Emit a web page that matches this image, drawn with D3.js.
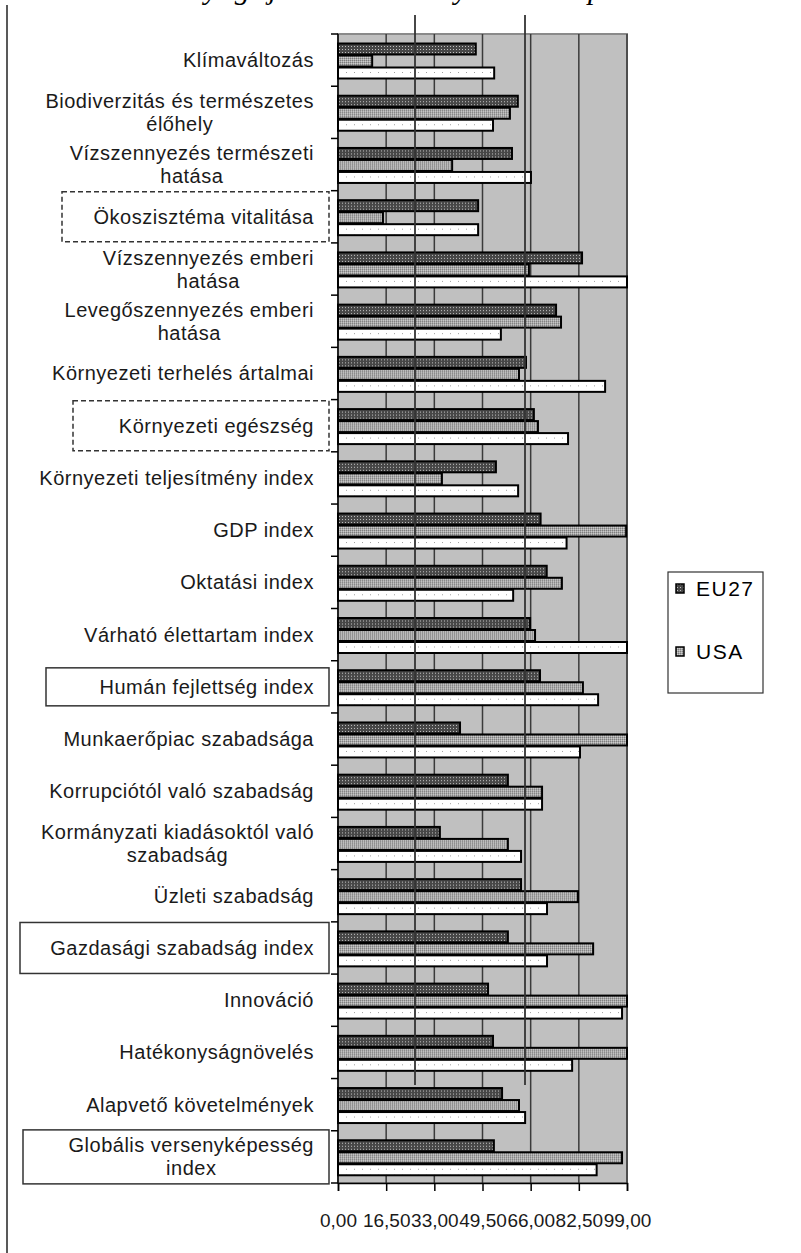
<!DOCTYPE html>
<html>
<head>
<meta charset="utf-8">
<script src="https://cdn.jsdelivr.net/npm/d3@7"></script>
<style>
  body { margin: 0; background: #fff; }
  svg { display: block; }
  .lbl { font-family: "Liberation Sans", Arial, sans-serif; font-size: 20px; letter-spacing: 0.5px; fill: #1a1a1a; }
</style>
</head>
<body>
<script>
const w = 801;
const h = 1253;

// kategóriák (| = sortörés)
const categories = [
  "Klímaváltozás",
  "Biodiverzitás és természetes|élőhely",
  "Vízszennyezés természeti|hatása",
  "Ökoszisztéma vitalitása",
  "Vízszennyezés emberi|hatása",
  "Levegőszennyezés emberi|hatása",
  "Környezeti terhelés ártalmai",
  "Környezeti egészség",
  "Környezeti teljesítmény index",
  "GDP index",
  "Oktatási index",
  "Várható élettartam index",
  "Humán fejlettség index",
  "Munkaerőpiac szabadsága",
  "Korrupciótól való szabadság",
  "Kormányzati kiadásoktól való|szabadság",
  "Üzleti szabadság",
  "Gazdasági szabadság index",
  "Innováció",
  "Hatékonyságnövelés",
  "Alapvető követelmények",
  "Globális versenyképesség|index"
];

const eu27 = [47.2, 61.6, 59.6, 48.0, 83.6, 74.7, 64.4, 67.1, 54.1, 69.4, 71.5,
  65.8, 69.2, 41.8, 58.2, 34.9, 62.7, 58.2, 51.4, 53.1, 56.2, 53.4];
const usa = [11.7, 58.9, 39.1, 15.4, 65.4, 76.4, 62.0, 68.5, 35.6, 98.7, 76.7,
  67.5, 83.9, 99.0, 69.9, 58.2, 82.2, 87.4, 99.0, 99.0, 62.0, 97.3];
const hu = [53.5, 53.1, 66.1, 48.0, 99.0, 55.8, 91.5, 78.8, 61.7, 78.3, 60.0,
  99.0, 89.1, 82.9, 69.9, 62.7, 71.6, 71.6, 97.3, 80.2, 64.1, 88.6];

const tickValues = [0, 16.5, 33, 49.5, 66, 82.5, 99];
const legendNames = ["EU27", "USA"];

const series = [
  { key: "eu", values: eu27, fill: "url(#patEU)" },
  { key: "usa", values: usa, fill: "url(#patUSA)" },
  { key: "hu", values: hu, fill: "url(#patHU)" }
];

const plot = { left: 338, right: 627, top: 34, bottom: 1183 };

const svg = d3.select("body").append("svg").attr("width", w).attr("height", h);

// minták
const defs = svg.append("defs");
const pEU = defs.append("pattern").attr("id", "patEU").attr("patternUnits", "userSpaceOnUse")
  .attr("width", 3).attr("height", 3);
pEU.append("rect").attr("width", 3).attr("height", 3).attr("fill", "#474747");
pEU.append("rect").attr("width", 1).attr("height", 1).attr("fill", "#c0c0c0");
const pUSA = defs.append("pattern").attr("id", "patUSA").attr("patternUnits", "userSpaceOnUse")
  .attr("width", 2).attr("height", 2);
pUSA.append("rect").attr("width", 2).attr("height", 2).attr("fill", "#a8a8a8");
pUSA.append("rect").attr("width", 1).attr("height", 1).attr("fill", "#7c7c7c");
pUSA.append("rect").attr("x", 1).attr("y", 1).attr("width", 1).attr("height", 1).attr("fill", "#cccccc");
const pHU = defs.append("pattern").attr("id", "patHU").attr("patternUnits", "userSpaceOnUse")
  .attr("width", 8).attr("height", 6);
pHU.append("rect").attr("width", 8).attr("height", 6).attr("fill", "#ffffff");
pHU.append("rect").attr("x", 2).attr("y", 2).attr("width", 1).attr("height", 1).attr("fill", "#a0a0a0");

// levágott cím a lap tetején (csak az alsó része látszik)
svg.append("text")
  .attr("x", 132).attr("y", -1)
  .attr("font-family", "Liberation Serif, serif")
  .attr("font-style", "italic")
  .attr("font-size", 30)
  .attr("letter-spacing", 1)
  .text("Az anyagi  jólét és a környezeti állapot mutatói");

// bal oldali függőleges vonal
svg.append("line").attr("x1", 7).attr("x2", 7).attr("y1", 5).attr("y2", h)
  .attr("stroke", "#222").attr("stroke-width", 1.5);

const xScale = d3.scaleLinear().domain([0, 99]).range([plot.left, plot.right]);
const yScale = d3.scaleBand().domain(categories).range([plot.top, plot.bottom]);
const yInner = d3.scaleBand().domain(series.map(d => d.key)).range([9, 45]);

// rajzterület háttere
svg.append("rect")
  .attr("x", plot.left).attr("y", plot.top)
  .attr("width", plot.right - plot.left).attr("height", plot.bottom - plot.top)
  .attr("fill", "#c0c0c0")
  .attr("stroke", "#8a8a8a").attr("stroke-width", 2);

// rácsvonalak
svg.append("g")
  .selectAll("line")
  .data(tickValues.slice(1))
  .enter()
  .append("line")
  .attr("x1", d => xScale(d)).attr("x2", d => xScale(d))
  .attr("y1", plot.top).attr("y2", plot.bottom)
  .attr("stroke", "#3a3a3a").attr("stroke-width", 1.5);

// oszlopok
const groups = svg.append("g")
  .selectAll("g")
  .data(categories)
  .enter()
  .append("g")
  .attr("transform", d => "translate(0," + yScale(d) + ")");

groups.selectAll("rect")
  .data((c, i) => series.map(s => ({ key: s.key, fill: s.fill, v: s.values[i] })))
  .enter()
  .append("rect")
  .attr("x", xScale(0))
  .attr("y", d => yInner(d.key) + 0.5)
  .attr("width", d => xScale(d.v) - xScale(0))
  .attr("height", yInner.bandwidth() - 1)
  .attr("fill", d => d.fill)
  .attr("stroke", "#000")
  .attr("stroke-width", 2);

// X tengely
const xAxis = d3.axisBottom(xScale)
  .tickValues(tickValues)
  .tickSize(8)
  .tickFormat(d => d3.format(".2f")(d).replace(".", ","));
const gx = svg.append("g")
  .attr("transform", "translate(0," + plot.bottom + ")")
  .call(xAxis);
gx.select(".domain").attr("stroke", "#000").attr("stroke-width", 1.5);
gx.selectAll(".tick line").attr("stroke", "#000").attr("stroke-width", 1.5);
gx.selectAll(".tick text")
  .attr("y", 31)
  .attr("font-family", "Liberation Sans, Arial, sans-serif")
  .attr("font-size", 19)
  .attr("fill", "#1a1a1a");

// Y tengely (vonal és osztások)
const yTicks = categories.map(c => yScale(c)).concat([plot.bottom]);
svg.append("line").attr("x1", plot.left).attr("x2", plot.left)
  .attr("y1", plot.top).attr("y2", plot.bottom)
  .attr("stroke", "#000").attr("stroke-width", 1.5);
svg.append("g").selectAll("line").data(yTicks).enter().append("line")
  .attr("x1", plot.left - 7).attr("x2", plot.left)
  .attr("y1", d => d).attr("y2", d => d)
  .attr("stroke", "#000").attr("stroke-width", 1.5);

// kategória címkék
const labelRight = 314;
const lineH = 23;
categories.forEach(c => {
  const lines = c.split("|");
  const cy = yScale(c) + yScale.bandwidth() / 2;
  const t = svg.append("text").attr("class", "lbl").attr("text-anchor", "middle");
  const spans = lines.map((ln, i) => t.append("tspan")
    .attr("y", cy + (i - (lines.length - 1) / 2) * lineH + 7)
    .text(ln));
  const maxW = d3.max(spans, s => s.node().getComputedTextLength());
  spans.forEach(s => s.attr("x", labelRight - maxW / 2));
});

// keretek a kiemelt címkék körül
const boxData = [
  { c: "Ökoszisztéma vitalitása", x: 62, h: 50, dash: "5,3" },
  { c: "Környezeti egészség", x: 73, h: 50, dash: "5,3" },
  { c: "Humán fejlettség index", x: 46, h: 38, dash: null },
  { c: "Gazdasági szabadság index", x: 20, h: 51, dash: null },
  { c: "Globális versenyképesség|index", x: 23, h: 54, dash: null }
];
svg.append("g").selectAll("rect").data(boxData).enter().append("rect")
  .attr("x", d => d.x)
  .attr("y", d => yScale(d.c) + yScale.bandwidth() / 2 - d.h / 2)
  .attr("width", d => 329 - d.x)
  .attr("height", d => d.h)
  .attr("fill", "none")
  .attr("stroke", "#333")
  .attr("stroke-width", 1.5)
  .attr("stroke-dasharray", d => d.dash);

// átfedő függőleges vonalak
svg.append("g").selectAll("line").data([415, 525]).enter().append("line")
  .attr("x1", d => d).attr("x2", d => d)
  .attr("y1", 15).attr("y2", 1085)
  .attr("stroke", "#333").attr("stroke-width", 1.8);

// jelmagyarázat
const legend = svg.append("g").attr("transform", "translate(668,572)");
legend.append("rect").attr("width", 95).attr("height", 121)
  .attr("fill", "#fff").attr("stroke", "#333").attr("stroke-width", 1.2);
const li = legend.selectAll("g.item").data(legendNames).enter().append("g")
  .attr("class", "item")
  .attr("transform", (d, i) => "translate(0," + (24 + i * 63) + ")");
li.append("rect").attr("x", 8).attr("y", -12).attr("width", 8).attr("height", 9)
  .attr("fill", (d, i) => series[i].fill).attr("stroke", "#000").attr("stroke-width", 1.5);
li.append("text").attr("x", 28).attr("y", 0)
  .attr("font-family", "Liberation Sans, Arial, sans-serif")
  .attr("font-size", 21).attr("letter-spacing", 1.5).attr("fill", "#000")
  .text(d => d);
</script>
</body>
</html>
